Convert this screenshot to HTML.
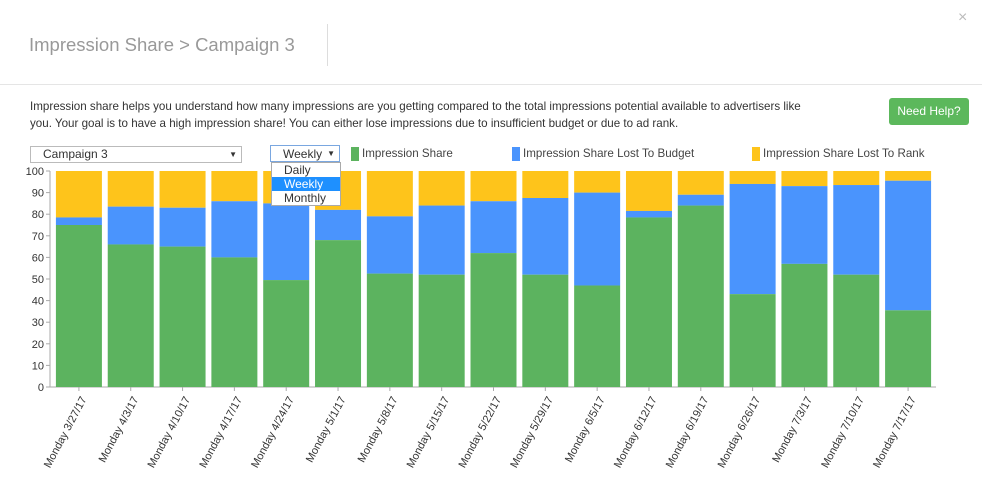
<!DOCTYPE html>
<html><head><meta charset="utf-8"><style>
body{margin:0;width:982px;height:491px;background:#fff;font-family:"Liberation Sans",sans-serif;position:relative;overflow:hidden}
.abs{position:absolute}
</style></head><body>
<div class="abs" style="left:29px;top:34px;font-size:18.5px;color:#999">Impression Share &gt; Campaign 3</div>
<div class="abs" style="left:327px;top:24px;width:1px;height:42px;background:#ddd"></div>
<div class="abs" style="left:958px;top:9px;font-size:16px;color:#bbb">×</div>
<div class="abs" style="left:0;top:84px;width:982px;height:1px;background:#e5e5e5"></div>
<div class="abs" style="left:30px;top:98px;width:790px;font-size:11.6px;line-height:17px;color:#333">Impression share helps you understand how many impressions are you getting compared to the total impressions potential available to advertisers like you. Your goal is to have a high impression share! You can either lose impressions due to insufficient budget or due to ad rank.</div>
<div class="abs" style="left:889px;top:98px;width:80px;height:27px;background:#5cb85c;border-radius:3px;color:#fff;font-size:12px;line-height:27px;text-align:center">Need Help?</div>
<div class="abs" style="left:30px;top:146px;width:198px;height:15px;border:1px solid #bbb;font-size:12px;line-height:15px;color:#333;padding-left:12px;box-sizing:content-box">Campaign 3<span style="position:absolute;right:4px;font-size:8px">▼</span></div>
<div class="abs" style="left:270px;top:145px;width:70px;height:17px;border:1px solid #7aa7e0;font-size:12px;line-height:16px;color:#333;padding-left:12px;box-sizing:border-box">Weekly<span style="position:absolute;right:4px;font-size:8px">▼</span></div>
<div class="abs" style="left:271px;top:162px;width:68px;border:1px solid #aaa;background:#fff;font-size:12px;line-height:14px;color:#333;z-index:5">
<div style="padding-left:12px">Daily</div>
<div style="padding-left:12px;background:#1e90ff;color:#fff">Weekly</div>
<div style="padding-left:12px">Monthly</div></div>
<div class="abs" style="left:351px;top:147px;font-size:11.6px;color:#444"><span style="display:inline-block;width:8px;height:14px;background:#5cb35f;vertical-align:middle;margin-right:3px"></span>Impression Share</div>
<div class="abs" style="left:512px;top:147px;font-size:11.6px;color:#444"><span style="display:inline-block;width:8px;height:14px;background:#4a94fd;vertical-align:middle;margin-right:3px"></span>Impression Share Lost To Budget</div>
<div class="abs" style="left:752px;top:147px;font-size:11.6px;color:#444"><span style="display:inline-block;width:8px;height:14px;background:#fec41b;vertical-align:middle;margin-right:3px"></span>Impression Share Lost To Rank</div>
<svg id="chart" class="abs" style="left:0;top:0" width="982" height="491"></svg>
<script>
const categories=["Monday 3/27/17","Monday 4/3/17","Monday 4/10/17","Monday 4/17/17","Monday 4/24/17","Monday 5/1/17","Monday 5/8/17","Monday 5/15/17","Monday 5/22/17","Monday 5/29/17","Monday 6/5/17","Monday 6/12/17","Monday 6/19/17","Monday 6/26/17","Monday 7/3/17","Monday 7/10/17","Monday 7/17/17"];
const impressionShare=[75,66,65,60,49.5,68,52.5,52,62,52,47,78.5,84,43,57,52,35.5];
const lostToBudget=[3.5,17.5,18,26,35.5,14,26.5,32,24,35.5,43,3,5,51,36,41.5,60];
const yTicks=[0,10,20,30,40,50,60,70,80,90,100];
const svg=document.getElementById('chart');const NS='http://www.w3.org/2000/svg';
const x0=53,x1=934,yTop=171,yBot=387;
const band=(x1-x0)/categories.length,bw=46;
const y=v=>yBot-(v/100)*(yBot-yTop);
function mk(t,a){const e=document.createElementNS(NS,t);for(const k in a)e.setAttribute(k,a[k]);svg.appendChild(e);return e;}
let ax=mk('line',{x1:50,y1:yTop,x2:50,y2:yBot,stroke:'#aaa'});


let bx=mk('line',{x1:46,y1:yBot,x2:x1+2,y2:yBot,stroke:'#aaa'});


yTicks.forEach(t=>{
 mk('line',{x1:46,y1:y(t),x2:50,y2:y(t),stroke:'#aaa'});
 const tx=mk('text',{x:44,y:y(t)+4,'text-anchor':'end','font-size':11,fill:'#333'});tx.textContent=t;
 
 
});
categories.forEach((c,i)=>{
 const cx=x0+band*(i+0.5),bx0=cx-bw/2;
 const g=impressionShare[i],b=lostToBudget[i];
 const r1=mk('rect',{x:bx0,y:y(100),width:bw,height:y(g+b)-y(100),fill:'#fec41b'});
 
 
 const r2=mk('rect',{x:bx0,y:y(g+b),width:bw,height:y(g)-y(g+b),fill:'#4a94fd'});
 
 
 const r3=mk('rect',{x:bx0,y:y(g),width:bw,height:yBot-y(g),fill:'#5cb35f'});
 
 
 mk('line',{x1:cx,y1:yBot,x2:cx,y2:yBot+4,stroke:'#aaa'});
 const lx=cx+8,ly=yBot+12;
 const tx=mk('text',{x:lx,y:ly,'text-anchor':'end','font-size':11,fill:'#333',transform:`rotate(-62 ${lx} ${ly})`});tx.textContent=c;
 
 
});
</script>
</body></html>
